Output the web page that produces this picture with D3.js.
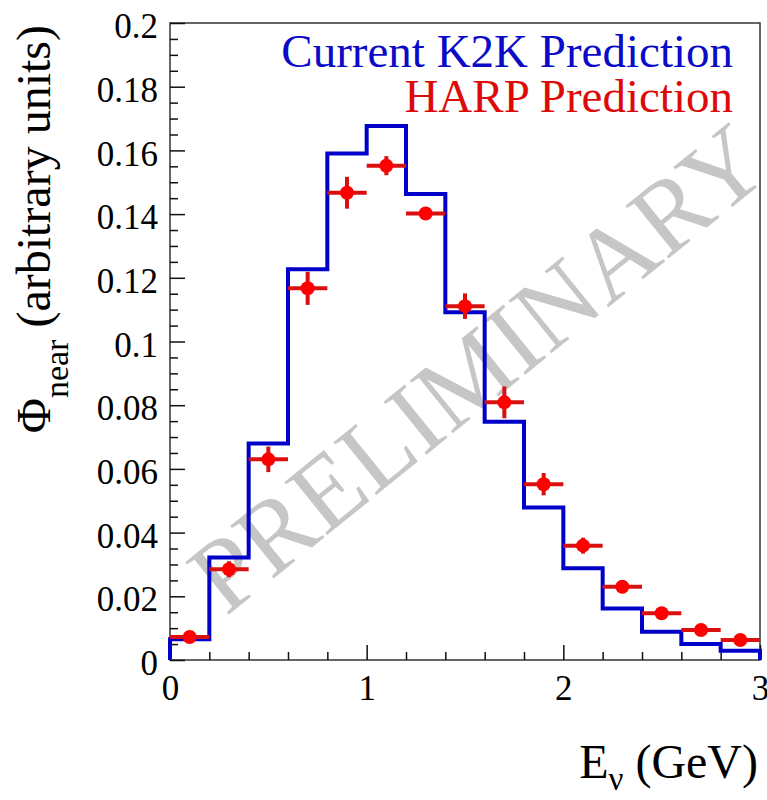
<!DOCTYPE html>
<html>
<head>
<meta charset="utf-8">
<script src="https://cdn.jsdelivr.net/npm/d3@7"></script>
<style>
  body { margin: 0; background: #fff; }
  svg text { font-family: "Liberation Serif", "Times New Roman", "DejaVu Serif", "Liberation Sans", serif; }
</style>
</head>
<body>
<div id="chart"></div>
<script>
// bin edges (GeV)
var binLow  = [0.0, 0.2, 0.4, 0.6, 0.8, 1.0, 1.2, 1.4, 1.6, 1.8, 2.0, 2.2, 2.4, 2.6, 2.8];
var binHigh = [0.2, 0.4, 0.6, 0.8, 1.0, 1.2, 1.4, 1.6, 1.8, 2.0, 2.2, 2.4, 2.6, 2.8, 3.0];
var binMid  = [0.1, 0.3, 0.5, 0.7, 0.9, 1.1, 1.3, 1.5, 1.7, 1.9, 2.1, 2.3, 2.5, 2.7, 2.9];

// current K2K prediction (histogram)
var k2kFlux = [0.0065, 0.0322, 0.068, 0.1227, 0.159, 0.1677, 0.1463, 0.1092,
               0.0748, 0.0479, 0.0288, 0.0162, 0.0089, 0.005, 0.0029];

// HARP prediction (points with errors)
var harpFlux = [0.0072, 0.0285, 0.063, 0.1167, 0.1467, 0.1552, 0.1402, 0.1111,
                0.0809, 0.0552, 0.0359, 0.023, 0.0147, 0.0094, 0.0063];
var harpErr  = [0.001, 0.0025, 0.004, 0.0052, 0.005, 0.003, 0.002, 0.004,
                0.005, 0.0035, 0.0025, 0.002, 0.0015, 0.0012, 0.001];

// axis ticks
var xTicks = [0, 1, 2, 3];
var xTickLabels = ["0", "1", "2", "3"];
var xMinor = [0.2, 0.4, 0.6, 0.8, 1.2, 1.4, 1.6, 1.8, 2.2, 2.4, 2.6, 2.8];
var yTicks = [0, 0.02, 0.04, 0.06, 0.08, 0.1, 0.12, 0.14, 0.16, 0.18, 0.2];
var yTickLabels = ["0", "0.02", "0.04", "0.06", "0.08", "0.1", "0.12", "0.14", "0.16", "0.18", "0.2"];
var yMinor = [0.005, 0.01, 0.015, 0.025, 0.03, 0.035, 0.045, 0.05, 0.055, 0.065, 0.07, 0.075,
              0.085, 0.09, 0.095, 0.105, 0.11, 0.115, 0.125, 0.13, 0.135, 0.145, 0.15, 0.155,
              0.165, 0.17, 0.175, 0.185, 0.19, 0.195];

var legendLabels = ["Current K2K Prediction", "HARP Prediction"];
var legendColors = ["#0a0ac8", "#dd0a0a"];

var serif = "'Liberation Serif', 'Times New Roman', 'DejaVu Serif', 'Liberation Sans', serif";

var margin = { top: 23, right: 7, bottom: 140, left: 170 },
    width = 767 - margin.left - margin.right,
    height = 800 - margin.top - margin.bottom;

var svg = d3.select("#chart").append("svg")
    .attr("width", 767)
    .attr("height", 800)
    .style("font-family", serif)
  .append("g")
    .attr("transform", "translate(" + margin.left + "," + margin.top + ")");

var x = d3.scaleLinear().domain([0, 3]).range([0, width]);
var y = d3.scaleLinear().domain([0, 0.2]).range([height, 0]);

// watermark, under everything else
svg.append("text")
    .attr("transform", "translate(" + (width * 0.52) + "," + (height * 0.54) + ") rotate(-39)")
    .attr("text-anchor", "middle")
    .attr("dy", "0.35em")
    .style("font-family", serif)
    .style("font-size", "104px")
    .style("fill", "#c6c6c6")
    .text("PRELIMINARY");

// frame
svg.append("rect")
    .attr("width", width)
    .attr("height", height)
    .attr("fill", "none")
    .attr("stroke", "#333")
    .attr("stroke-width", 1.5);

// minor ticks
svg.append("g")
    .attr("class", "axis")
    .call(d3.axisLeft(y).tickValues(yMinor).tickSize(-8).tickFormat(""));
svg.append("g")
    .attr("class", "axis")
    .attr("transform", "translate(0," + height + ")")
    .call(d3.axisBottom(x).tickValues(xMinor).tickSize(-8).tickFormat(""));

// major ticks + labels
var yAxis = svg.append("g")
    .attr("class", "axis")
    .call(d3.axisLeft(y).tickValues(yTicks).tickSize(-15).tickPadding(12)
      .tickFormat(function(d, i) { return yTickLabels[i]; }));
yAxis.selectAll("text").attr("dy", "0.36em").attr("y", 2);

var xAxis = svg.append("g")
    .attr("class", "axis")
    .attr("transform", "translate(0," + height + ")")
    .call(d3.axisBottom(x).tickValues(xTicks).tickSize(-15)
      .tickFormat(function(d, i) { return xTickLabels[i]; }));
xAxis.selectAll("text").attr("dy", null).attr("y", 40);

svg.selectAll(".axis").attr("font-family", null);
svg.selectAll(".axis .domain").remove();
svg.selectAll(".axis line").attr("stroke", "#111").attr("stroke-width", 1.5);
svg.selectAll(".axis text")
    .attr("fill", "#000")
    .style("font-size", "35px")
    .style("font-family", serif);

// K2K histogram outline
var steps = [[0, 0]];
binLow.forEach(function(lo, i) {
  steps.push([lo, k2kFlux[i]]);
  steps.push([binHigh[i], k2kFlux[i]]);
});
steps.push([3, 0]);

svg.append("path")
    .datum(steps)
    .attr("fill", "none")
    .attr("stroke", "#0000c8")
    .attr("stroke-width", 4)
    .attr("d", d3.line()
      .x(function(d) { return x(d[0]); })
      .y(function(d) { return y(d[1]); }));

// HARP points
var pts = svg.selectAll(".harp")
    .data(binMid)
    .enter().append("g")
    .attr("class", "harp");

pts.append("line")
    .attr("x1", function(d, i) { return x(binLow[i]); })
    .attr("x2", function(d, i) { return x(binHigh[i]); })
    .attr("y1", function(d, i) { return y(harpFlux[i]); })
    .attr("y2", function(d, i) { return y(harpFlux[i]); })
    .attr("stroke", "#d81010")
    .attr("stroke-width", 4);

pts.append("line")
    .attr("x1", function(d) { return x(d); })
    .attr("x2", function(d) { return x(d); })
    .attr("y1", function(d, i) { return y(harpFlux[i] - harpErr[i]); })
    .attr("y2", function(d, i) { return y(harpFlux[i] + harpErr[i]); })
    .attr("stroke", "#d81010")
    .attr("stroke-width", 4);

pts.append("circle")
    .attr("cx", function(d) { return x(d); })
    .attr("cy", function(d, i) { return y(harpFlux[i]); })
    .attr("r", 7)
    .attr("fill", "#ff0000");

// legend text
svg.selectAll(".legend")
    .data(legendLabels)
    .enter().append("text")
    .attr("class", "legend")
    .attr("x", 733 - margin.left)
    .attr("y", function(d, i) { return 67 - margin.top + i * 45; })
    .attr("text-anchor", "end")
    .style("font-family", serif)
    .style("font-size", "47px")
    .style("fill", function(d, i) { return legendColors[i]; })
    .text(function(d) { return d; });

// x title
var xt = svg.append("text")
    .attr("x", 758 - margin.left)
    .attr("y", 778 - margin.top)
    .attr("text-anchor", "end")
    .style("font-family", serif)
    .style("font-size", "48px");
xt.append("tspan").text("E");
xt.append("tspan").attr("dy", 12).style("font-size", "33px").text("ν");
xt.append("tspan").attr("dy", -12).text(" (GeV)");

// y title
var yt = svg.append("text")
    .attr("transform", "translate(" + (50 - margin.left) + "," + (25 - margin.top) + ") rotate(-90)")
    .attr("text-anchor", "end")
    .style("font-family", serif)
    .style("font-size", "48px");
yt.append("tspan").text("Φ");
yt.append("tspan").attr("dy", 18).style("font-size", "34px").text("near");
yt.append("tspan").attr("dy", -18).text(" (arbitrary units)");
</script>
</body>
</html>
